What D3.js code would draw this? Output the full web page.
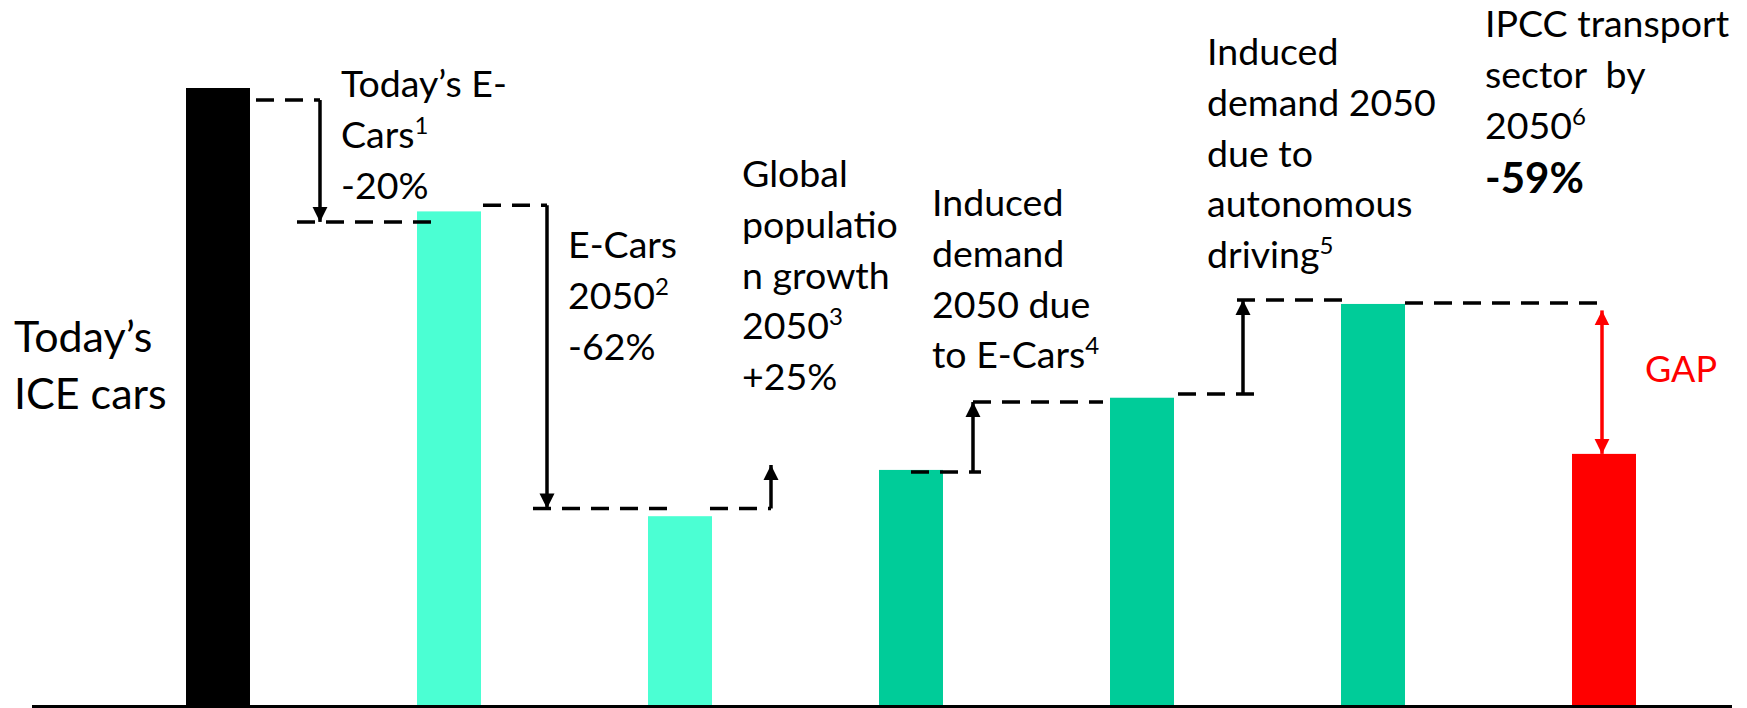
<!DOCTYPE html>
<html>
<head>
<meta charset="utf-8">
<script src="https://cdn.jsdelivr.net/npm/d3@7"></script>
<style>
  html, body { margin: 0; padding: 0; background: #fff; }
  text { font-family: Lato, "Open Sans", sans-serif; fill: #000; white-space: pre; }
</style>
</head>
<body>
<div id="chart"></div>
<script>
// Bars of the waterfall
var categories = ["Today’s ICE cars", "Today’s E-Cars", "E-Cars 2050", "Global population growth 2050",
                  "Induced demand 2050 due to E-Cars", "Induced demand 2050 due to autonomous driving",
                  "IPCC transport sector by 2050"];
var values = [100, 80, 30.6, 38.1, 49.8, 65, 40.7];
var groups = ["today", "ecar", "ecar", "demand", "demand", "demand", "target"];

// Connector levels (same units as values), one per step between bars
var stepStart = [98.05, 81.0, 31.85, 37.75, 50.4, 65.15];
var stepEnd   = [78.3, 31.85, 38.9, 49.1, 65.65, 40.7];

// Step annotations, [text, superscript]
var stepLabels = [
  [["Today’s E-"], ["Cars", "1"], ["-20%"]],
  [["E-Cars"], ["2050", "2"], ["-62%"]],
  [["Global"], ["populatio"], ["n growth"], ["2050", "3"], ["+25%"]],
  [["Induced"], ["demand"], ["2050 due"], ["to E-Cars", "4"]],
  [["Induced"], ["demand 2050"], ["due to"], ["autonomous"], ["driving", "5"]],
  [["IPCC transport"], ["sector  by"], ["2050", "6"]]
];
var targetLabel = "-59%";
var gapLabel = "GAP";
var leftLabel = ["Today’s", "ICE cars"];

var width = 1747, height = 708;

var svg = d3.select("#chart").append("svg")
    .attr("width", width)
    .attr("height", height);

var x = d3.scaleBand()
    .domain(categories)
    .range([102.5, 1719.5])
    .paddingInner(0.723)
    .paddingOuter(0.3615);

var y = d3.scaleLinear()
    .domain([0, 100])
    .range([705, 88]);

var color = d3.scaleOrdinal()
    .domain(["today", "ecar", "demand", "target"])
    .range(["#000000", "#4BFFD3", "#00CC99", "#FF0000"]);

// arrow markers
var defs = svg.append("defs");
function marker(id, fill) {
  defs.append("marker")
      .attr("id", id)
      .attr("markerUnits", "userSpaceOnUse")
      .attr("viewBox", "0 0 16 16")
      .attr("markerWidth", 16)
      .attr("markerHeight", 16)
      .attr("refX", 15)
      .attr("refY", 8)
      .attr("orient", "auto-start-reverse")
    .append("path")
      .attr("d", "M0,0.5 L15,8 L0,15.5 Z")
      .attr("fill", fill);
}
marker("arrowBlack", "#000");
marker("arrowRed", "#FF0000");

// bars
svg.selectAll("rect.bar")
    .data(categories)
    .enter()
    .append("rect")
      .attr("class", "bar")
      .attr("x", function(d) { return x(d); })
      .attr("y", function(d, i) { return y(values[i]); })
      .attr("width", x.bandwidth())
      .attr("height", function(d, i) { return y(0) - y(values[i]); })
      .attr("fill", function(d, i) { return color(groups[i]); });

// baseline
svg.append("line")
    .attr("x1", 32).attr("x2", 1732)
    .attr("y1", y(0) + 1.5).attr("y2", y(0) + 1.5)
    .attr("stroke", "#000")
    .attr("stroke-width", 3);

var bw = x.bandwidth();
function bx(i) { return x(categories[i]); }

function dash(x0, x1, v) {
  svg.append("line")
      .attr("x1", x0).attr("x2", x1)
      .attr("y1", y(v)).attr("y2", y(v))
      .attr("stroke", "#000")
      .attr("stroke-width", 3.5)
      .attr("stroke-dasharray", "18,11");
}

function arrow(xa, v0, v1, col, both) {
  var l = svg.append("line")
      .attr("x1", xa).attr("x2", xa)
      .attr("y1", y(v0)).attr("y2", y(v1))
      .attr("stroke", col === "red" ? "#FF0000" : "#000")
      .attr("stroke-width", 3.5)
      .attr("marker-end", col === "red" ? "url(#arrowRed)" : "url(#arrowBlack)");
  if (both) l.attr("marker-start", "url(#arrowRed)");
}

// step 1: today's E-Cars
var a = bx(0) + bw + 70;
dash(bx(0) + bw + 6, a, stepStart[0]);
arrow(a, stepStart[0], stepEnd[0]);
dash(a - 23, bx(1) + 23, stepEnd[0]);

// step 2: E-Cars 2050
a = bx(1) + bw + 66;
dash(bx(1) + bw + 2, a, stepStart[1]);
arrow(a, stepStart[1], stepEnd[1]);
dash(a - 14, bx(2) + 29, stepEnd[1]);

// step 3: population growth
a = bx(2) + bw + 59;
dash(bx(2) + bw - 2, a, stepStart[2]);
arrow(a, stepStart[2], stepEnd[2]);

// step 4: induced demand by E-Cars
a = bx(3) + bw + 30;
dash(bx(3) + 32, a + 8, stepStart[3]);
arrow(a, stepStart[3], stepEnd[3]);
dash(a, bx(4) - 7, stepEnd[3]);

// step 5: autonomous driving
a = bx(4) + bw + 69;
dash(bx(4) + bw + 4, a + 22, stepStart[4]);
arrow(a, stepStart[4], stepEnd[4]);
dash(a - 6, bx(5) + 8, stepEnd[4]);

// step 6: gap to IPCC target
a = bx(6) + bw / 2 - 2;
dash(bx(5) + bw, a + 1, stepStart[5]);
arrow(a, stepStart[5] - 1.2, stepEnd[5], "red", true);

// annotations
var labelX = [bx(1) - 76, bx(2) - 80, bx(3) - 137, bx(4) - 178, bx(5) - 134, bx(6) - 87];
var labelY = [97, 258, 187, 216, 65, 37];
var lineH = 50.8;

stepLabels.forEach(function(lines, i) {
  var t = svg.append("text")
      .attr("x", labelX[i])
      .attr("y", labelY[i])
      .style("font-size", "37.5px");
  lines.forEach(function(ln, j) {
    t.append("tspan")
        .attr("x", labelX[i])
        .attr("y", labelY[i] + j * lineH)
        .text(ln[0]);
    if (ln[1]) {
      t.append("tspan")
          .attr("dy", -14)
          .style("font-size", "24px")
          .text(ln[1]);
    }
  });
});

svg.append("text")
    .attr("x", labelX[5])
    .attr("y", labelY[5] + 3 * lineH + 4)
    .style("font-size", "42px")
    .style("font-weight", "bold")
    .text(targetLabel);

svg.append("text")
    .attr("x", bx(6) + bw + 9)
    .attr("y", 382)
    .style("font-size", "36px")
    .style("fill", "#FF0000")
    .text(gapLabel);

svg.append("text")
    .attr("x", 14)
    .attr("y", 352)
    .style("font-size", "43px")
    .selectAll("tspan")
    .data(leftLabel)
    .enter()
    .append("tspan")
      .attr("x", 14)
      .attr("y", function(d, i) { return 352 + i * 57; })
      .text(function(d) { return d; });
</script>
</body>
</html>
